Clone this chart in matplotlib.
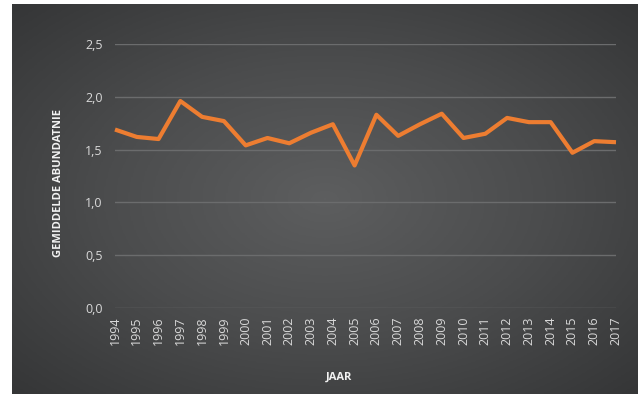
import numpy as np
import matplotlib
matplotlib.use("Agg")
import matplotlib.pyplot as plt
from matplotlib.colors import LinearSegmentedColormap

# data
years = [str(y) for y in range(1994, 2018)]
abundance = [1.69, 1.62, 1.60, 1.96, 1.81, 1.77, 1.54, 1.61, 1.56, 1.66,
             1.74, 1.35, 1.83, 1.63, 1.74, 1.84, 1.61, 1.65, 1.80, 1.76,
             1.76, 1.47, 1.58, 1.57]
y_ticks = [0.0, 0.5, 1.0, 1.5, 2.0, 2.5]
y_tick_labels = ["0,0", "0,5", "1,0", "1,5", "2,0", "2,5"]

W, H = 638, 394
plt.rcParams['font.family'] = ['Open Sans', 'DejaVu Sans']

fig = plt.figure(figsize=(W / 100, H / 100), dpi=100)
fig.patch.set_facecolor('white')

# radial gradient background (Excel style dark chart area)
bg = fig.add_axes([12 / W, 0, 626 / W, 390 / H])
gx, gy = np.meshgrid(np.linspace(-1, 1, 400), np.linspace(-1, 1, 250))
r = np.clip(np.sqrt(gx ** 2 + gy ** 2) / np.sqrt(2), 0, 1)
cmap = LinearSegmentedColormap.from_list('bg', ['#5d5e5f', '#4b4c4d', '#353637'])
bg.imshow(r, cmap=cmap, aspect='auto', extent=[0, 1, 0, 1], vmin=0, vmax=1)
bg.set_axis_off()

ax = fig.add_axes([115 / W, 86 / H, 501 / W, (308 - 44) / H])
ax.patch.set_alpha(0)
x = np.arange(len(years))
ax.plot(x, abundance, color='#ED7D31', lw=3.0, solid_joinstyle='round',
        solid_capstyle='butt', clip_on=False, zorder=3)

ax.set_xlim(0, len(years) - 1)
ax.set_ylim(0, 2.5)
ax.set_yticks(y_ticks)
ax.set_yticklabels(y_tick_labels)
ax.set_xticks(x)
ax.set_xticklabels(years, rotation=90)
ax.grid(axis='y', color='#6b6c6d', lw=1)
ax.set_axisbelow(True)
ax.tick_params(length=0, colors='#d9d9d9', labelsize=9)
ax.tick_params(axis='y', pad=9)
ax.tick_params(axis='x', pad=6)
for s in ax.spines.values():
    s.set_visible(False)

fig.text(59 / W, 1 - 183 / H, 'GEMIDDELDE ABUNDATNIE', rotation=90,
         ha='center', va='center', color='#f2f2f2', fontsize=8, fontweight='bold')
fig.text(339 / W, 1 - 377 / H, 'JAAR', ha='center', va='center',
         color='#f2f2f2', fontsize=8, fontweight='bold')

fig.savefig('out.png', dpi=100, facecolor=fig.get_facecolor())
